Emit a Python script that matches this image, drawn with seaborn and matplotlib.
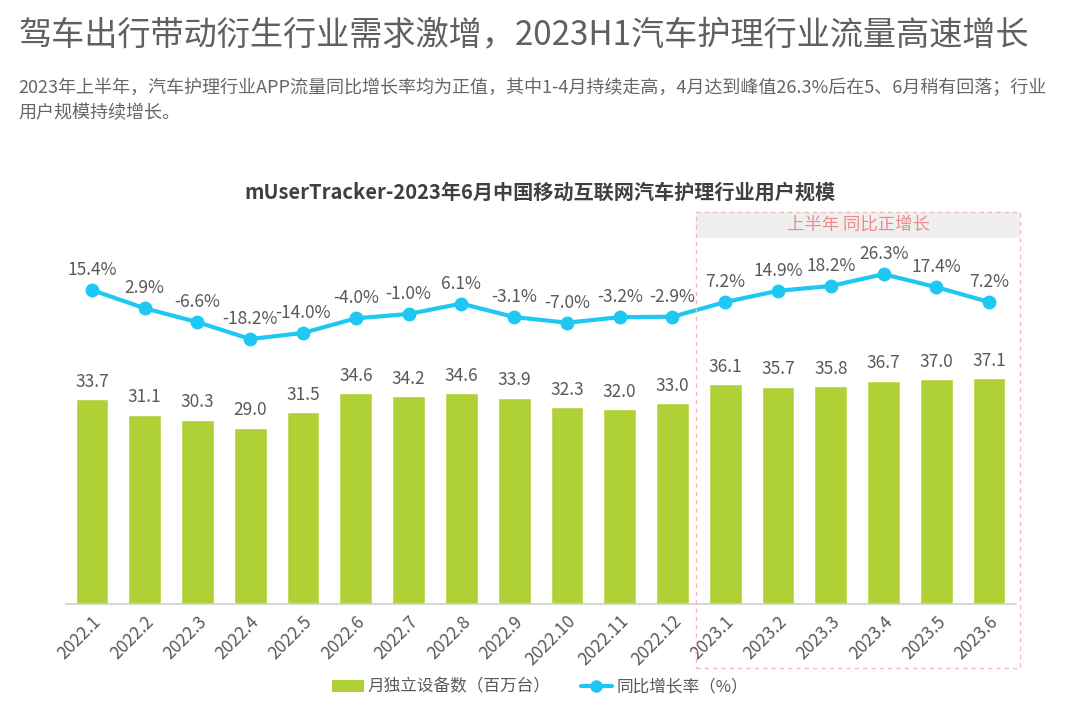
import numpy as np
import pandas as pd
import seaborn as sns
import matplotlib.pyplot as plt
import matplotlib.transforms as mtransforms
from matplotlib.patches import Rectangle, Patch
from matplotlib.lines import Line2D

sns.set_style("white")
plt.rcParams["font.family"] = ["Noto Sans CJK SC", "DejaVu Sans"]
plt.rcParams["axes.unicode_minus"] = False

months = ["2022.1", "2022.2", "2022.3", "2022.4", "2022.5", "2022.6",
          "2022.7", "2022.8", "2022.9", "2022.10", "2022.11", "2022.12",
          "2023.1", "2023.2", "2023.3", "2023.4", "2023.5", "2023.6"]
devices = [33.7, 31.1, 30.3, 29.0, 31.5, 34.6, 34.2, 34.6, 33.9, 32.3,
           32.0, 33.0, 36.1, 35.7, 35.8, 36.7, 37.0, 37.1]
growth = [15.4, 2.9, -6.6, -18.2, -14.0, -4.0, -1.0, 6.1, -3.1, -7.0,
          -3.2, -2.9, 7.2, 14.9, 18.2, 26.3, 17.4, 7.2]

bar_color = "#b0d136"
line_color = "#1ec8f2"
text_color = "#595959"

df = pd.DataFrame({"month": months, "devices": devices, "growth": growth})
df["pos"] = np.arange(len(df))

fig = plt.figure(figsize=(10.8, 7.05), dpi=100)
ax = fig.add_axes([0.0607, 0.1433, 0.8796, 0.573])

sns.barplot(data=df, x="month", y="devices", color=bar_color, width=0.62,
            saturation=1, ax=ax)
ax.set_xlim(-0.5, len(months) - 0.5)
ax.set_ylim(0, 66.4)
for i, v in enumerate(devices):
    ax.annotate(f"{v:.1f}", (i, v), xytext=(0, 6), textcoords="offset points",
                ha="center", va="bottom", fontsize=12.5, color=text_color)

ax2 = ax.twinx()
sns.lineplot(data=df, x="pos", y="growth", color=line_color, linewidth=3,
             marker="o", markersize=10, markeredgewidth=0, ax=ax2)
ax2.set_ylim(-200, 77.2)
for i, v in enumerate(growth):
    ax2.annotate(f"{v:.1f}%", (i, v), xytext=(0, 8), textcoords="offset points",
                 ha="center", va="bottom", fontsize=12.5, color=text_color)

for a in (ax, ax2):
    a.set_xlabel("")
    a.set_ylabel("")
    a.set_yticks([])
    for s in a.spines.values():
        s.set_visible(False)
ax.spines["bottom"].set_visible(True)
ax.spines["bottom"].set_color("#d0d0d0")
ax.spines["bottom"].set_linewidth(1.2)

ax.set_xticks(range(len(months)))
ax.set_xticklabels(months, rotation=45, ha="right", rotation_mode="anchor",
                   fontsize=12.5, color=text_color)
ax.tick_params(axis="x", length=0, pad=6)

# highlight box for 2023 H1
trans = mtransforms.blended_transform_factory(ax.transData, fig.transFigure)
x0, x1 = 11.45, 17.58
y_bot, y_top = 1 - 668 / 705, 1 - 212 / 705
band_bot = 1 - 238 / 705
fig.patches.append(Rectangle((x0, band_bot), x1 - x0, y_top - band_bot,
                             transform=trans, facecolor="#efefef",
                             edgecolor="none", zorder=0))
fig.patches.append(Rectangle((x0, y_bot), x1 - x0, y_top - y_bot,
                             transform=trans, facecolor="none",
                             edgecolor="#f5b8b8", linewidth=1,
                             linestyle=(0, (3, 3)), zorder=1))
fig.text(0, (band_bot + y_top) / 2, "上半年 同比正增长", transform=trans,
         fontsize=12.5, color="#f08a8a", ha="center", va="center")
fig.texts[-1].set_x((x0 + x1) / 2)

# titles
fig.text(0.017, 1 - 35 / 705, "驾车出行带动衍生行业需求激增，2023H1汽车护理行业流量高速增长",
         fontsize=23.9, color="#606060", ha="left", va="center")
fig.text(0.017, 1 - 88 / 705,
         "2023年上半年，汽车护理行业APP流量同比增长率均为正值，其中1-4月持续走高，4月达到峰值26.3%后在5、6月稍有回落；行业",
         fontsize=13, color="#666666", ha="left", va="center")
fig.text(0.017, 1 - 113 / 705, "用户规模持续增长。",
         fontsize=13, color="#666666", ha="left", va="center")
fig.text(0.5, 1 - 192 / 705, "mUserTracker-2023年6月中国移动互联网汽车护理行业用户规模",
         fontsize=14.5, fontweight="bold", color="#404040", ha="center", va="center")

handles = [Patch(facecolor=bar_color, edgecolor="none"),
           Line2D([0], [0], color=line_color, linewidth=3, marker="o",
                  markersize=9, markeredgewidth=0)]
fig.legend(handles, ["月独立设备数（百万台）", "同比增长率（%）"],
           loc="center", bbox_to_anchor=(0.5, 1 - 687 / 705), ncol=2,
           frameon=False, fontsize=12, labelcolor=text_color,
           handlelength=1.9, handleheight=0.7, handletextpad=0.25,
           columnspacing=1.8)

fig.savefig("out.png", dpi=100)
